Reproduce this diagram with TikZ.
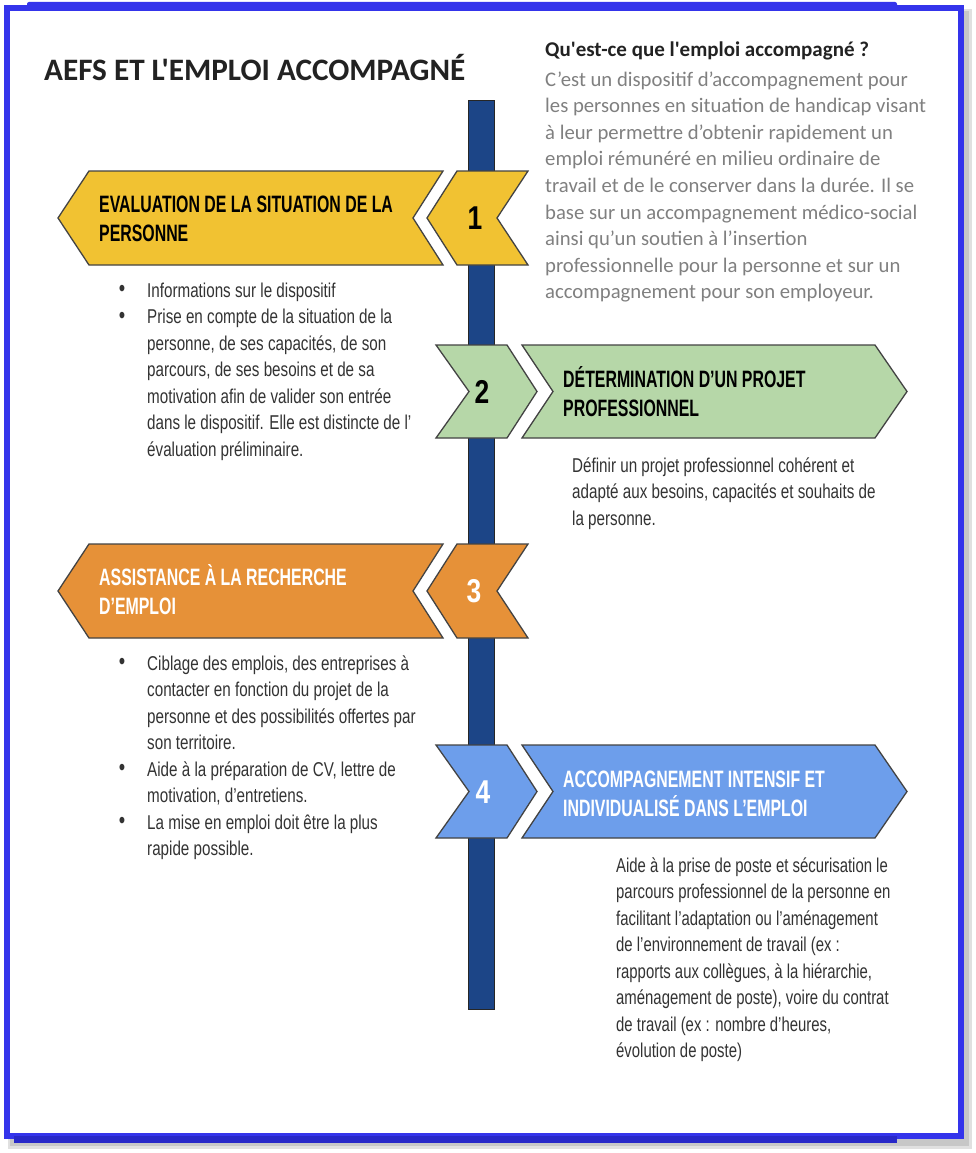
\documentclass[tikz,border=0pt]{standalone}
\usepackage{fontspec}
\setmainfont{Liberation Sans}
\newfontfamily\condfont[FakeStretch=0.76]{Liberation Sans}
\newfontfamily\narfont[FakeStretch=0.745]{Liberation Sans}
\newfontfamily\headfont[FakeStretch=0.67]{Liberation Sans}
\newfontfamily\numfont[FakeStretch=0.8]{Liberation Sans}
\newfontfamily\calfont{Carlito}
\definecolor{framebl}{RGB}{52,52,235}
\definecolor{framedk}{RGB}{40,40,200}
\definecolor{barbl}{HTML}{1C4587}
\definecolor{yel}{HTML}{F1C232}
\definecolor{grn}{HTML}{B6D7A8}
\definecolor{org}{HTML}{E69138}
\definecolor{blu}{HTML}{6D9EEB}
\definecolor{descg}{HTML}{808080}
\definecolor{titg}{HTML}{222222}
\definecolor{bodyg}{HTML}{333333}
\definecolor{edge}{HTML}{434343}
\tikzset{
  chev/.style={draw=edge, line width=1.3pt, line join=miter},
  barstyle/.style={fill=barbl, draw=black!85, line width=1pt},
  bannertxt/.style={anchor=base west, align=left, inner sep=0pt, font=\headfont\bfseries\fontsize{23.7}{29}\selectfont},
  bodytxt/.style={anchor=base west, align=left, inner sep=0pt, text=bodyg, font=\condfont\fontsize{20}{26.5}\selectfont},
  numtxt/.style={anchor=center, inner sep=0pt, font=\numfont\bfseries\fontsize{33}{33}\selectfont},
}
\newcommand\lbanner[3]{% top, bottom, colour
  \pgfmathsetmacro\mym{(#1+#2)/2}
  \draw[chev, fill=#3] (443,#1) -- (89,#1) -- (58,\mym) -- (89,#2) -- (443,#2) -- (413,\mym) -- cycle;
  \draw[chev, fill=#3] (528,#1) -- (457,#1) -- (427,\mym) -- (457,#2) -- (528,#2) -- (497,\mym) -- cycle;
}
\newcommand\rbanner[3]{%
  \pgfmathsetmacro\mym{(#1+#2)/2}
  \draw[chev, fill=#3] (436,#1) -- (507,#1) -- (537,\mym) -- (507,#2) -- (436,#2) -- (469,\mym) -- cycle;
  \draw[chev, fill=#3] (522,#1) -- (875,#1) -- (907,\mym) -- (875,#2) -- (522,#2) -- (553,\mym) -- cycle;
}
\newcommand\bul{\llap{\raisebox{0.5pt}{\fontsize{24}{24}\selectfont\textbullet}\hspace{22pt}}}
\begin{document}
\begin{tikzpicture}[x=1pt,y=-1pt]
\useasboundingbox (0,0) rectangle (976,1153);
\fill[white] (0,0) rectangle (976,1153);
% frame
\fill[black!12] (8,9) rectangle (972,1149);
\fill[black!22] (10,11) rectangle (969,1146);
\draw[framebl, fill=white, line width=6pt] (7,8) rectangle (961,1136);
\fill[framebl, rounded corners=2pt] (27,2) rectangle (897,9);
\fill[framedk] (14,1136) rectangle (897,1143);
% timeline bar
\draw[barstyle] (468,101) rectangle (494,1009);
% banners
\lbanner{171}{265}{yel}
\rbanner{345}{438}{grn}
\lbanner{544}{638}{org}
\rbanner{745}{838}{blu}
% numbers
\node[numtxt] (n1) at (475,218) {1};
\node[numtxt] (n2) at (482,392) {2};
\node[numtxt, text=white] (n3) at (474,591) {3};
\node[numtxt, text=white] (n4) at (483,792) {4};
% banner titles (anchor = baseline of last line)
\node[bannertxt] (t1) at (99,241) {EVALUATION DE LA SITUATION DE LA\\PERSONNE};
\node[bannertxt] (t2) at (563,416) {DÉTERMINATION D’UN PROJET\\PROFESSIONNEL};
\node[bannertxt, text=white] (t3) at (99,614) {ASSISTANCE À LA RECHERCHE\\D’EMPLOI};
\node[bannertxt, text=white] (t4) at (563,816) {ACCOMPAGNEMENT INTENSIF ET\\INDIVIDUALISÉ DANS L’EMPLOI};
% body texts
\node[bodytxt] (b1) at (147,456) {\bul Informations sur le dispositif\\
\bul Prise en compte de la situation de la\\
personne, de ses capacités, de son\\
parcours, de ses besoins et de sa\\
motivation afin de valider son entrée\\
dans le dispositif. Elle est distincte de l’\\
évaluation préliminaire.};
\node[bodytxt] (b2) at (572,525) {Définir un projet professionnel cohérent et\\
adapté aux besoins, capacités et souhaits de\\
la personne.};
\node[bodytxt] (b3) at (147,855.5) {\bul Ciblage des emplois, des entreprises à\\
contacter en fonction du projet de la\\
personne et des possibilités offertes par\\
son territoire.\\
\bul Aide à la préparation de CV, lettre de\\
motivation, d’entretiens.\\
\bul La mise en emploi doit être la plus\\
rapide possible.};
\node[bodytxt, font=\narfont\fontsize{20}{26.5}\selectfont] (b4) at (616,1057.5) {Aide à la prise de poste et sécurisation le\\
parcours professionnel de la personne en\\
facilitant l’adaptation ou l’aménagement\\
de l’environnement de travail (ex :\\
rapports aux collègues, à la hiérarchie,\\
aménagement de poste), voire du contrat\\
de travail (ex : nombre d’heures,\\
évolution de poste)};
% title and description
\node[anchor=base west, inner sep=0pt, text=titg, font=\calfont\bfseries\fontsize{31.2}{34}\selectfont] (title) at (44,81) {AEFS ET L'EMPLOI ACCOMPAGNÉ};
\node[anchor=base west, inner sep=0pt, text=titg, font=\calfont\bfseries\fontsize{21}{26}\selectfont] (q) at (545,57) {Qu'est-ce que l'emploi accompagné ?};
\node[anchor=base west, align=left, inner sep=0pt, text=descg, font=\calfont\fontsize{20.7}{26.6}\selectfont] (desc) at (545,298.8) {C’est un dispositif d’accompagnement pour\\
les personnes en situation de handicap visant\\
à leur permettre d’obtenir rapidement un\\
emploi rémunéré en milieu ordinaire de\\
travail et de le conserver dans la durée. Il se\\
base sur un accompagnement médico-social\\
ainsi qu’un soutien à l’insertion\\
professionnelle pour la personne et sur un\\
accompagnement pour son employeur.};
\end{tikzpicture}
\end{document}
